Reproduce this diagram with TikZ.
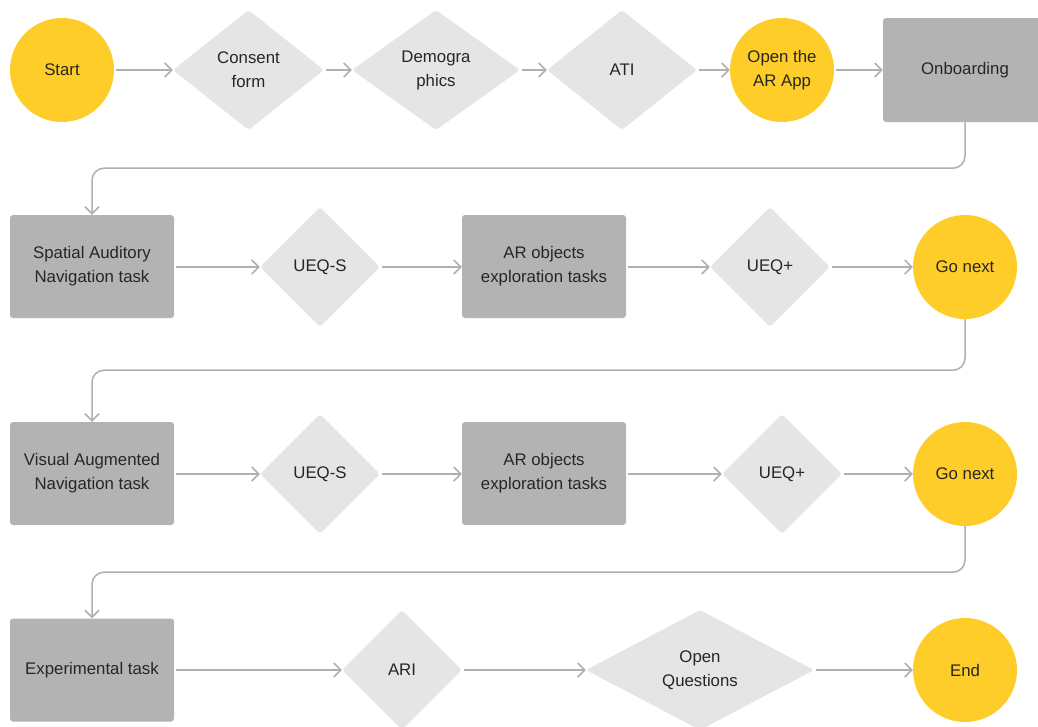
\documentclass[tikz,border=0pt]{standalone}
\usepackage{fontspec}
\setmainfont{Liberation Sans}
\usetikzlibrary{shapes.geometric,arrows.meta}
\definecolor{yel}{HTML}{FFCD29}
\definecolor{boxg}{HTML}{B3B3B3}
\definecolor{diag}{HTML}{E5E5E5}
\definecolor{lineg}{HTML}{B0B0B0}
\definecolor{txt}{HTML}{262626}
\tikzset{
  base/.style={inner sep=0pt, align=center, text=txt, font=\fontsize{16.8}{24}\selectfont},
  term/.style={base, circle, fill=yel, minimum size=104pt},
  stepbox/.style={base, rectangle, fill=boxg, rounded corners=3pt, minimum width=164pt, minimum height=103pt},
  quest/.style={base, diamond, fill=diag, rounded corners=3pt, aspect=1, minimum width=120pt, minimum height=120pt},
  questw/.style={base, diamond, fill=diag, rounded corners=3pt, minimum width=#1, minimum height=120pt, aspect=1.3},
  arr/.style={draw=lineg, line width=1.5pt, shorten <=2pt, -{Straight Barb[length=7pt,width=14pt,line width=1.5pt]}},
  conn/.style={arr, shorten <=0pt, rounded corners=12pt}
}
\begin{document}
\begin{tikzpicture}[x=1pt,y=-1pt]
\clip (0,0) rectangle (1038,726);
\fill[white] (0,0) rectangle (1038,726);
% Row 1
\node[term] (start) at (62,70) {Start};
\node[questw=151pt] (consent) at (248.5,70) {Consent\\form};
\node[questw=168pt] (demo) at (436,70) {Demogra\\phics};
\node[questw=150pt] (ati) at (622,70) {ATI};
\node[term] (open) at (782,70) {Open the\\AR App};
\node[stepbox, minimum height=104pt] (onb) at (965,70) {Onboarding};
% Row 2
\node[stepbox] (san) at (92,266.5) {Spatial Auditory\\Navigation task};
\node[quest] (ueqs1) at (320,267) {UEQ-S};
\node[stepbox] (aro1) at (544,266.5) {AR objects\\exploration tasks};
\node[quest] (ueqp1) at (770,267) {UEQ+};
\node[term] (go1) at (965,267) {Go next};
% Row 3
\node[stepbox] (van) at (92,473.5) {Visual Augmented\\Navigation task};
\node[quest] (ueqs2) at (320,474) {UEQ-S};
\node[stepbox] (aro2) at (544,473.5) {AR objects\\exploration tasks};
\node[quest] (ueqp2) at (782,474) {UEQ+};
\node[term] (go2) at (965,474) {Go next};
% Row 4
\node[stepbox] (exp) at (92,670) {Experimental task};
\node[quest] (ari) at (402,670) {ARI};
\node[questw=228pt] (oq) at (700,670) {Open\\Questions};
\node[term] (end) at (965,670) {End};
% Arrows row 1
\draw[arr] (start) -- (consent);
\draw[arr] (consent) -- (demo);
\draw[arr] (demo) -- (ati);
\draw[arr] (ati) -- (open);
\draw[arr] (open) -- (onb);
% Row 2
\draw[arr] (san.east |- ueqs1) -- (ueqs1);
\draw[arr] (ueqs1) -- (aro1.west |- ueqs1);
\draw[arr] (aro1.east |- ueqp1) -- (ueqp1);
\draw[arr] (ueqp1) -- (go1);
% Row 3
\draw[arr] (van.east |- ueqs2) -- (ueqs2);
\draw[arr] (ueqs2) -- (aro2.west |- ueqs2);
\draw[arr] (aro2.east |- ueqp2) -- (ueqp2);
\draw[arr] (ueqp2) -- (go2);
% Row 4
\draw[arr] (exp) -- (ari);
\draw[arr] (ari) -- (oq);
\draw[arr] (oq) -- (end);
% Connectors between rows
\draw[conn] (onb.south) -- ++(0,46) -| (san.north);
\draw[conn] (go1.south) -- ++(0,51) -| (van.north);
\draw[conn] (go2.south) -- ++(0,46) -| (exp.north);
\end{tikzpicture}
\end{document}
